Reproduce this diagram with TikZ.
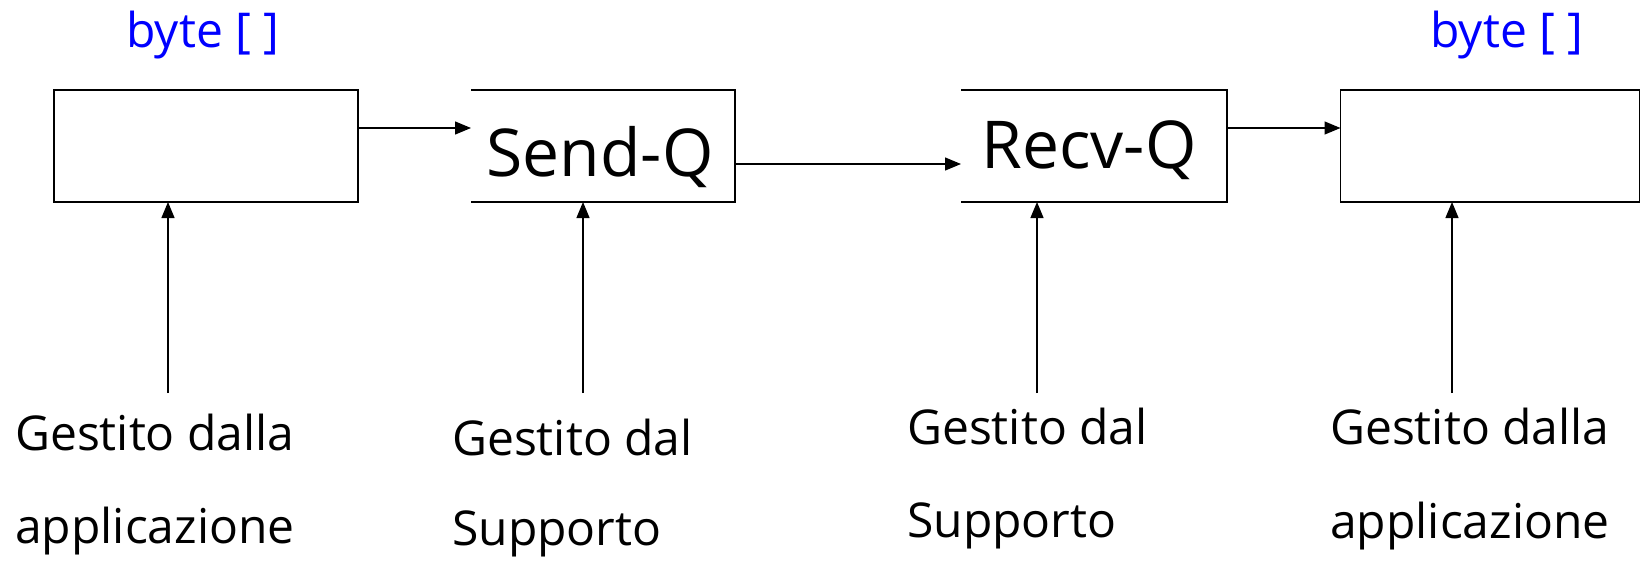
\documentclass[tikz,border=0pt]{standalone}
\usepackage{fontspec}
\setmainfont{Open Sans}
\usetikzlibrary{arrows.meta}
\definecolor{bytblue}{RGB}{0,0,255}
\begin{document}
\begin{tikzpicture}[x=1pt,y=-1pt,
  boxshape/.style={rectangle, inner sep=0pt, outer sep=0pt, minimum height=112pt},
  boxline/.style={line width=1.8pt, line join=miter},
  arr/.style={line width=1.3pt, -{Triangle[length=16pt,width=13pt]}},
  lbl/.style={anchor=base west, inner sep=0pt, font=\fontsize{48}{58}\selectfont},
  qtxt/.style={inner sep=0pt, font=\fontsize{66}{78}\selectfont},
  bytetxt/.style={anchor=base, inner sep=0pt, text=bytblue, font=\fontsize{48}{58}\selectfont}]
\useasboundingbox (0,0) rectangle (1642,563);
% boxes
\node[boxshape, draw, line width=1.8pt, minimum width=304pt] (b1) at (206,146) {};
\node[boxshape, minimum width=264pt] (sq) at (603,146) {};
\node[boxshape, minimum width=266pt] (rq) at (1094,146) {};
\node[boxshape, draw, line width=1.8pt, minimum width=299pt] (b4) at (1490,146) {};
\draw[boxline] (sq.north west) -- (sq.north east) -- (sq.south east) -- (sq.south west);
\draw[boxline] (rq.north west) -- (rq.north east) -- (rq.south east) -- (rq.south west);
\node[qtxt] (sqt) at (600,157) {Send-Q};
\node[qtxt] (rqt) at (1089,150) {Recv-Q};
% byte labels
\node[bytetxt] (by1) at (203,47) {byte [ ]};
\node[bytetxt] (by4) at (1507,47) {byte [ ]};
% horizontal arrows
\draw[arr] ([yshift=18pt]b1.east) -- ([yshift=18pt]sq.west);
\draw[arr] ([yshift=-18pt]sq.east) -- ([yshift=-18pt]rq.west);
\draw[arr] ([yshift=18pt]rq.east) -- ([yshift=18pt]b4.west);
% vertical arrows
\coordinate (a1) at (168,393);
\coordinate (a2) at (583,393);
\coordinate (a3) at (1037,393);
\coordinate (a4) at (1452,393);
\draw[arr] (a1) -- (a1 |- b1.south);
\draw[arr] (a2) -- (a2 |- sq.south);
\draw[arr] (a3) -- (a3 |- rq.south);
\draw[arr] (a4) -- (a4 |- b4.south);
% labels
\node[lbl] (l1a) at (15,450) {Gestito dalla};
\node[lbl] (l1b) at (15,543) {applicazione};
\node[lbl] (l2a) at (452,455) {Gestito dal};
\node[lbl] (l2b) at (452,545) {Supporto};
\node[lbl] (l3a) at (907,444) {Gestito dal};
\node[lbl] (l3b) at (907,537) {Supporto};
\node[lbl] (l4a) at (1330,444) {Gestito dalla};
\node[lbl] (l4b) at (1330,538) {applicazione};
\end{tikzpicture}
\end{document}
